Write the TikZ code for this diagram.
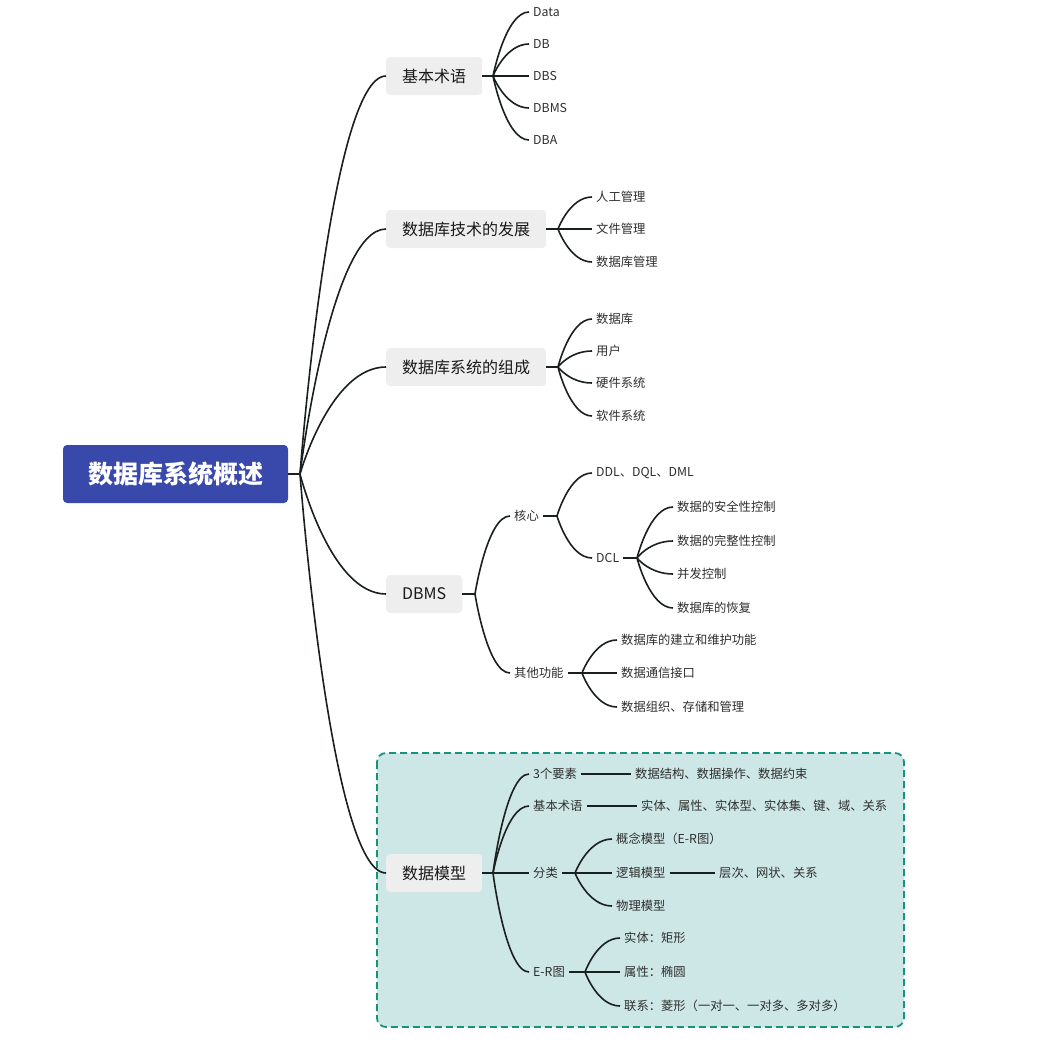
\documentclass[tikz,border=0pt]{standalone}
\usepackage{fontspec}
\setmainfont{Noto Sans CJK SC}
\usetikzlibrary{calc,positioning}
\definecolor{rootblue}{HTML}{3949AB}
\definecolor{boxgrey}{HTML}{EEEEEE}
\definecolor{modelfill}{HTML}{CDE7E6}
\definecolor{modeldash}{HTML}{16937F}
\definecolor{inkline}{HTML}{1A1F1F}

\begin{document}
\begin{tikzpicture}[
    x=1pt, y=-1pt,
    link/.style={draw=inkline, line width=1.6pt},
    branch/.style={to path={.. controls (\tikztostart) and ($(\tikztostart|-\tikztotarget)!0.35!(\tikztotarget)$) .. (\tikztotarget)}},
    topic/.style={fill=rootblue, text=white, rounded corners=4pt, minimum width=225pt, minimum height=58pt, font=\fontsize{25}{30}\selectfont\bfseries},
    subtopic/.style={fill=boxgrey, text=black!90, rounded corners=4pt, minimum height=38pt, inner xsep=16pt, anchor=west, font=\fontsize{16}{19}\selectfont},
    leaf/.style={text=black!82, anchor=west, inner xsep=4pt, inner ysep=2pt, font=\fontsize{12.3}{15}\selectfont},
]
\useasboundingbox (0,0) rectangle (1058,1060);
% frame round the data model branch
\draw[draw=modeldash, fill=modelfill, line width=1.8pt, dash pattern=on 7pt off 4pt, rounded corners=9pt] (377,753) rectangle (904,1027);

% root and main topics
\node[topic] (root) at (175.5,474) {数据库系统概述};
\coordinate (rootfan) at (300,474);
\draw[link] (root.east) -- (rootfan);
\node[subtopic] (term)  at (386,76)  {基本术语};
\node[subtopic] (dev)   at (386,229) {数据库技术的发展};
\node[subtopic] (comp)  at (386,367) {数据库系统的组成};
\node[subtopic] (dbms)  at (386,594) {DBMS};
\node[subtopic] (model) at (386,873) {数据模型};
\foreach \nm in {term,dev,comp,dbms,model}
  \draw[link] (rootfan) to[branch] (\nm.west);

% basic terms
\coordinate (termfan) at (493,76);
\draw[link] (term.east) -- (termfan);
\foreach \txt/\yy [count=\i] in {Data/12, DB/44, DBS/76, DBMS/108, DBA/140} {
  \node[leaf] (term\i) at (529,\yy) {\txt};
  \draw[link] (termfan) to[branch] (term\i.west);
}

% development
\coordinate (devfan) at (558,229);
\draw[link] (dev.east) -- (devfan);
\foreach \txt/\yy [count=\i] in {人工管理/197, 文件管理/229, 数据库管理/262} {
  \node[leaf] (dev\i) at (592,\yy) {\txt};
  \draw[link] (devfan) to[branch] (dev\i.west);
}

% components
\coordinate (compfan) at (558,367);
\draw[link] (comp.east) -- (compfan);
\foreach \txt/\yy [count=\i] in {数据库/319, 用户/351, 硬件系统/383, 软件系统/416} {
  \node[leaf] (comp\i) at (592,\yy) {\txt};
  \draw[link] (compfan) to[branch] (comp\i.west);
}

% DBMS
\coordinate (dbmsfan) at (475,594);
\draw[link] (dbms.east) -- (dbmsfan);
\node[leaf] (core)  at (510,516) {核心};
\node[leaf] (other) at (510,673) {其他功能};
\draw[link] (dbmsfan) to[branch] (core.west);
\draw[link] (dbmsfan) to[branch] (other.west);

\coordinate (corefan) at (557,516);
\draw[link] (core.east) -- (corefan);
\node[leaf] (lang) at (592,473) {DDL、DQL、DML};
\node[leaf] (dcl)  at (592,558) {DCL};
\draw[link] (corefan) to[branch] (lang.west);
\draw[link] (corefan) to[branch] (dcl.west);

\coordinate (dclfan) at (637,558);
\draw[link] (dcl.east) -- (dclfan);
\foreach \txt/\yy [count=\i] in {数据的安全性控制/507, 数据的完整性控制/541, 并发控制/574, 数据库的恢复/608} {
  \node[leaf] (dcl\i) at (673,\yy) {\txt};
  \draw[link] (dclfan) to[branch] (dcl\i.west);
}

\coordinate (otherfan) at (582,673);
\draw[link] (other.east) -- (otherfan);
\foreach \txt/\yy [count=\i] in {数据库的建立和维护功能/640, 数据通信接口/673, 数据组织、存储和管理/707} {
  \node[leaf] (other\i) at (617,\yy) {\txt};
  \draw[link] (otherfan) to[branch] (other\i.west);
}

% data model
\coordinate (modelfan) at (493,873);
\draw[link] (model.east) -- (modelfan);
\node[leaf] (elem)  at (529,774) {3个要素};
\node[leaf] (mterm) at (529,806) {基本术语};
\node[leaf] (kind)  at (529,873) {分类};
\node[leaf] (er)    at (529,972) {E-R图};
\foreach \nm in {elem,mterm,kind,er}
  \draw[link] (modelfan) to[branch] (\nm.west);

\node[leaf] (elemval)  at (631,774) {数据结构、数据操作、数据约束};
\node[leaf] (mtermval) at (637,806) {实体、属性、实体型、实体集、键、域、关系};
\draw[link] (elem.east) -- (elemval.west);
\draw[link] (mterm.east) -- (mtermval.west);

\coordinate (kindfan) at (575,873);
\draw[link] (kind.east) -- (kindfan);
\node[leaf] (concept) at (612,839) {概念模型（E-R图）};
\node[leaf] (logic)   at (612,873) {逻辑模型};
\node[leaf] (phys)    at (612,906) {物理模型};
\foreach \nm in {concept,logic,phys}
  \draw[link] (kindfan) to[branch] (\nm.west);
\node[leaf] (logicval) at (715,873) {层次、网状、关系};
\draw[link] (logic.east) -- (logicval.west);

\coordinate (erfan) at (585,972);
\draw[link] (er.east) -- (erfan);
\foreach \txt/\yy [count=\i] in {实体：矩形/938, 属性：椭圆/972, 联系：菱形（一对一、一对多、多对多）/1006} {
  \node[leaf] (er\i) at (620,\yy) {\txt};
  \draw[link] (erfan) to[branch] (er\i.west);
}
\end{tikzpicture}
\end{document}
